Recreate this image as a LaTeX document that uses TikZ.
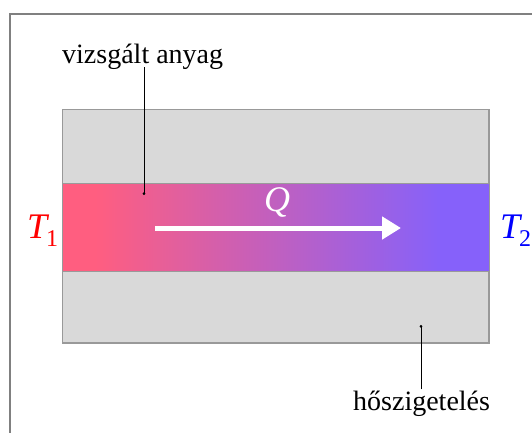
\documentclass[tikz,border=0pt]{standalone}
\usepackage{fontspec}
\setmainfont{Liberation Serif}
\usetikzlibrary{arrows.meta}
\definecolor{hotc}{RGB}{255,94,128}
\definecolor{coldc}{RGB}{134,97,250}
\definecolor{insul}{RGB}{217,217,217}
\definecolor{frameg}{RGB}{128,128,128}
\tikzset{
  lbl/.style={inner sep=0pt, font=\fontsize{28}{32}\selectfont},
  leader/.style={black, line width=0.9pt, -{Circle[length=2.6pt]}},
}
\begin{document}
\begin{tikzpicture}[x=1pt,y=-1pt]
\useasboundingbox (0,0) rectangle (532,432);
\clip (0,0) rectangle (532,432);
% outer frame
\draw[frameg, line width=2pt] (10,445) -- (10,13.5) -- (545,13.5);
% insulation
\draw[fill=insul, draw=frameg!80, line width=1.2pt] (62.5,109.5) rectangle (489,343);
% material band
\fill[hotc] (62.5,183) rectangle (96,271);
\shade[left color=hotc, right color=coldc] (95.5,183) rectangle (440.5,271);
\fill[coldc] (440,183) rectangle (489,271);
\draw[frameg!80, line width=1pt] (62.5,183) -- (489,183) (62.5,271) -- (489,271);
% heat flow arrow
\coordinate (qa) at (155,228);
\coordinate (qb) at (401,228);
\draw[white, line width=5pt, -{Triangle[length=19pt,width=22pt]}] (qa) -- (qb);
\node[inner sep=0pt, text=white, font=\fontsize{36}{40}\selectfont\itshape] (Q) at (277,202) {Q};
% temperatures
\node[inner sep=0pt, anchor=base west, text=red] (T1) at (27,238)
  {{\fontsize{36}{40}\selectfont\itshape T}\kern-1pt\raisebox{-8pt}{\fontsize{24}{28}\selectfont 1}};
\node[inner sep=0pt, anchor=base west, text=blue] (T2) at (500,238)
  {{\fontsize{36}{40}\selectfont\itshape T}\kern-1pt\raisebox{-8pt}{\fontsize{24}{28}\selectfont 2}};
% labels
\node[lbl, anchor=base west] (mat) at (62,63) {vizsgált anyag};
\node[lbl, anchor=base west] (ins) at (353,410) {hőszigetelés};
\coordinate (pm) at (144,195);
\coordinate (pi) at (421,325);
\draw[leader] (pm |- mat.south) ++(0,-2) -- (pm);
\draw[leader] (pi |- ins.north) ++(0,-1) -- (pi);
\end{tikzpicture}
\end{document}
